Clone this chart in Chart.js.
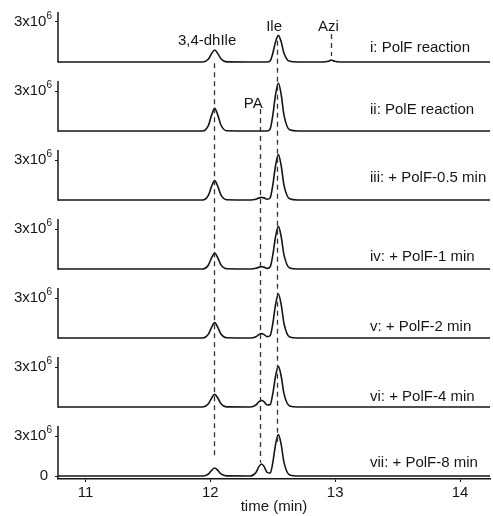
<!DOCTYPE html>
<html>
<head>
<meta charset="utf-8">
<script src="https://cdn.jsdelivr.net/npm/chart.js@4"></script>
<style>
  html, body { margin: 0; padding: 0; background: #fff; }
</style>
</head>
<body>
<canvas id="chromatogram" width="493" height="516"></canvas>
<script>
// retention time (min) shared by every trace
const times = [10.78, 11.94, 11.985, 12.01, 12.035, 12.06, 12.085, 12.13,
  12.32, 12.365, 12.39, 12.41, 12.43, 12.455, 12.48, 12.5, 12.522, 12.545,
  12.568, 12.59, 12.635, 12.7, 12.9, 12.945, 12.97, 12.995, 13.04, 14.24]

// intensity, x10^6 counts
const traceI   = [0, 0, 0.22, 0.63, 0.9, 0.63, 0.25, 0.01, 0, 0, 0, 0, 0, 0, 0.1, 0.64, 1.5, 2.0, 1.5, 0.66, 0.05, 0, 0, 0.05, 0.15, 0.05, 0, 0]
const traceII  = [0, 0, 0.42, 1.19, 1.7, 1.19, 0.45, 0.02, 0, 0, 0, 0, 0, 0, 0.18, 1.15, 2.7, 3.6, 2.7, 1.19, 0.09, 0, 0, 0, 0, 0, 0, 0]
const traceIII = [0, 0, 0.36, 1.02, 1.45, 1.02, 0.38, 0.02, 0, 0.06, 0.16, 0.2, 0.16, 0.06, 0.18, 1.09, 2.55, 3.4, 2.55, 1.12, 0.09, 0, 0, 0, 0, 0, 0, 0]
const traceIV  = [0, 0, 0.3, 0.84, 1.2, 0.84, 0.31, 0.02, 0, 0.05, 0.14, 0.17, 0.14, 0.05, 0.17, 1.02, 2.4, 3.2, 2.4, 1.06, 0.08, 0, 0, 0, 0, 0, 0, 0]
const traceV   = [0, 0, 0.29, 0.8, 1.15, 0.8, 0.3, 0.02, 0, 0.1, 0.26, 0.33, 0.26, 0.1, 0.19, 1.06, 2.48, 3.3, 2.48, 1.09, 0.08, 0, 0, 0, 0, 0, 0, 0]
const traceVI  = [0, 0, 0.24, 0.67, 0.95, 0.67, 0.25, 0.01, 0, 0.15, 0.4, 0.5, 0.4, 0.15, 0.19, 0.98, 2.29, 3.05, 2.29, 1.0, 0.08, 0, 0, 0, 0, 0, 0, 0]
const traceVII = [0, 0, 0.15, 0.42, 0.6, 0.42, 0.16, 0.01, 0, 0.27, 0.72, 0.9, 0.72, 0.27, 0.22, 0.99, 2.33, 3.1, 2.33, 1.02, 0.08, 0, 0, 0, 0, 0, 0, 0]

const sampleLabels = ['i: PolF reaction', 'ii: PolE reaction', 'iii: + PolF-0.5 min',
  'iv: + PolF-1 min', 'v: + PolF-2 min', 'vi: + PolF-4 min', 'vii: + PolF-8 min']
const peakNames = ['3,4-dhIle', 'PA', 'Ile', 'Azi']
const peakTimes = [12.03, 12.4, 12.535, 12.97]
const xTicks = [11, 12, 13, 14]
const yTick = 3

const traces = [traceI, traceII, traceIII, traceIV, traceV, traceVI, traceVII]

// layout bits (pixels / value offsets), kept apart from the data
const ink = '#161616'
const family = '"Liberation Sans", Arial, sans-serif'
const pxPerUnit = 1 / 0.075
const axisTop = 3.75
const labelLift = [1.05, 1.6, 1.65, 0.9, 0.8, 0.75, 1.0]
const peakLabelPos = [[0, 1.6], [1, 2.0], [0, 2.6], [0, 2.6]]
const peakLabelShift = [-7, -7, -3, -3]
const markerSpans = [
  { from: [0, -0.1], to: [6, 1.4] },
  { from: [1, 1.65], to: [6, 1.0] },
  { from: [0, 1.6], to: [6, 2.4] },
  { from: [0, 2.1], to: [0, 0.45] }
]

const panelIds = traces.map((_, k) => 'y' + k)

const scales = {
  x: {
    type: 'linear',
    min: 10.78,
    max: 14.24,
    afterBuildTicks: s => { s.ticks = xTicks.map(v => ({ value: v })) },
    afterFit: s => { s.height = 37; s.paddingLeft = 0; s.paddingRight = 0 },
    grid: { display: true, drawOnChartArea: false, tickLength: 3, color: ink, tickWidth: 1 },
    border: { display: true, color: ink, width: 1.5 },
    ticks: { color: ink, font: { family, size: 15 }, padding: 2, maxRotation: 0 },
    title: { display: true, text: 'time (min)', color: ink, padding: { top: 0, bottom: 0 },
      font: { family, size: 15 } }
  }
}

panelIds.forEach((id, k) => {
  const first = k === 0
  scales[id] = {
    type: 'linear',
    position: 'left',
    stack: 'panels',
    stackWeight: first ? 61 / 69 : 1,
    weight: traces.length - k,
    min: -3 / pxPerUnit,
    max: first ? 58 / pxPerUnit : 66 / pxPerUnit,
    afterBuildTicks: s => {
      s.ticks = k === traces.length - 1 ? [{ value: 0 }, { value: yTick }] : [{ value: yTick }]
    },
    afterFit: s => { s.width = 58; s.paddingTop = 0; s.paddingBottom = 0 },
    grid: { display: true, drawOnChartArea: false, tickLength: 3, color: ink, tickWidth: 1 },
    border: { display: false },
    // labels drawn by the plugin so the exponent can be raised
    ticks: { display: false }
  }
})

const decorations = {
  id: 'decorations',
  afterDatasetsDraw(chart) {
    const { ctx, chartArea } = chart
    const x = chart.scales.x
    const py = (panel, v) => chart.scales[panelIds[panel]].getPixelForValue(v)
    ctx.save()

    // short y axis line for each panel
    ctx.strokeStyle = ink
    ctx.lineWidth = 1.5
    panelIds.forEach((id, k) => {
      const bottom = k === panelIds.length - 1 ? chartArea.bottom : py(k, 0) + 0.75
      ctx.beginPath()
      ctx.moveTo(chartArea.left, bottom)
      ctx.lineTo(chartArea.left, py(k, axisTop))
      ctx.stroke()
    })

    // y tick labels: 3x10^6 (and 0 on the last panel)
    ctx.fillStyle = ink
    ctx.textBaseline = 'middle'
    const right = chartArea.left - 6
    panelIds.forEach((id, k) => {
      chart.scales[id].ticks.forEach(t => {
        const yy = py(k, t.value)
        ctx.textAlign = 'right'
        if (t.value === 0) {
          ctx.font = '15px ' + family
          ctx.fillText('0', right - 4, yy)
          return
        }
        ctx.font = '10px ' + family
        const expW = ctx.measureText('6').width
        ctx.fillText('6', right, yy - 6)
        ctx.font = '15px ' + family
        ctx.fillText(t.value + 'x10', right - expW, yy)
      })
    })

    // dashed markers at the retention times
    ctx.strokeStyle = '#333'
    ctx.lineWidth = 1.3
    ctx.setLineDash([5, 4])
    markerSpans.forEach((span, i) => {
      const px = Math.round(x.getPixelForValue(peakTimes[i])) + 0.5
      ctx.beginPath()
      ctx.moveTo(px, py(span.from[0], span.from[1]))
      ctx.lineTo(px, py(span.to[0], span.to[1]))
      ctx.stroke()
    })
    ctx.setLineDash([])

    // compound names and sample names
    ctx.font = '15px ' + family
    ctx.textAlign = 'center'
    peakNames.forEach((name, i) => {
      const [panel, v] = peakLabelPos[i]
      ctx.fillText(name, x.getPixelForValue(peakTimes[i]) + peakLabelShift[i], py(panel, v))
    })
    ctx.textAlign = 'left'
    sampleLabels.forEach((label, k) => {
      ctx.fillText(label, 370, py(k, labelLift[k]))
    })
    ctx.restore()
  }
}

new Chart(document.getElementById('chromatogram'), {
  type: 'line',
  data: {
    datasets: traces.map((trace, k) => ({
      label: sampleLabels[k],
      data: trace.map((v, i) => ({ x: times[i], y: v })),
      yAxisID: panelIds[k],
      borderColor: ink,
      borderWidth: 1.6,
      pointRadius: 0,
      fill: false,
      cubicInterpolationMode: 'monotone'
    }))
  },
  options: {
    responsive: false,
    animation: false,
    layout: { padding: { top: 4, right: 3, left: 0, bottom: 0 } },
    scales,
    plugins: {
      legend: { display: false },
      tooltip: { enabled: false }
    }
  },
  plugins: [decorations]
})
</script>
</body>
</html>
